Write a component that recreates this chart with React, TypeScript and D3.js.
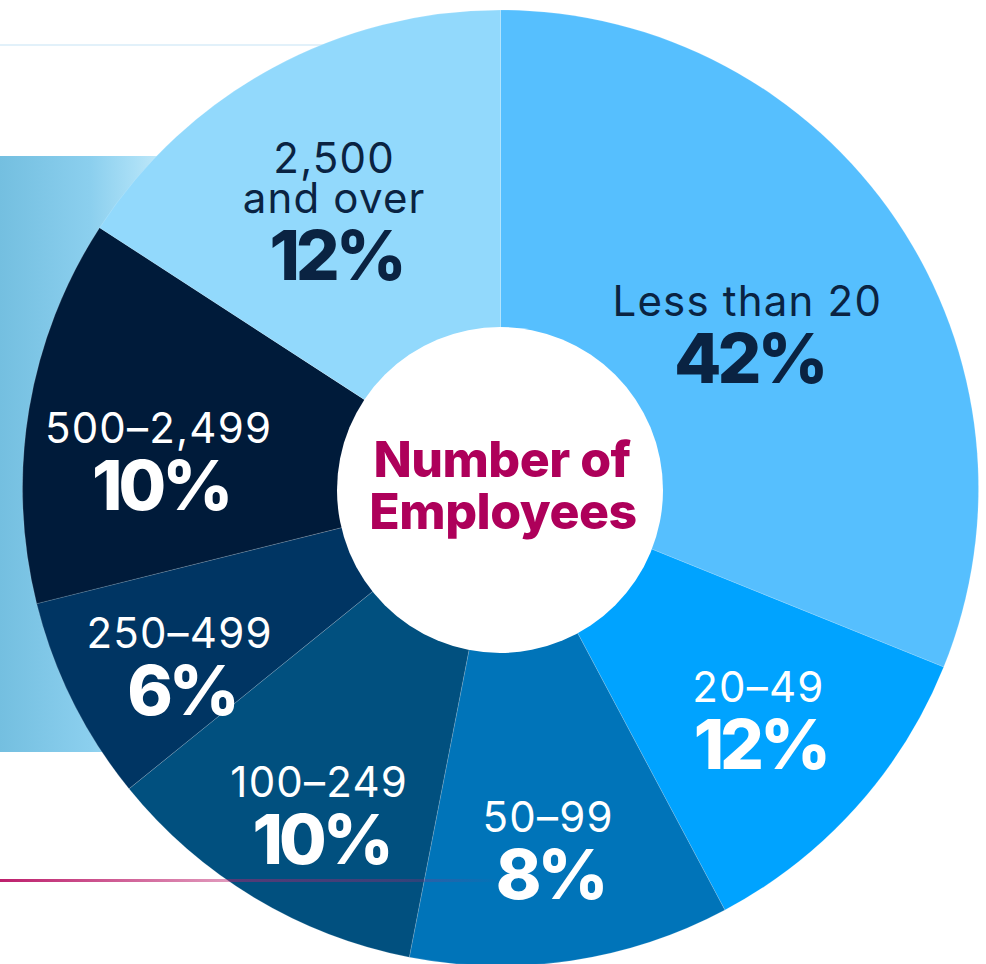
import * as d3 from 'd3';
import React, { useEffect, useRef } from 'react';

// categories (clockwise from 12 o'clock) and their share of companies
const categories = ['Less than 20', '20–49', '50–99', '100–249', '250–499', '500–2,499', '2,500\nand over'];
const percentages = [42, 12, 8, 10, 6, 10, 12];
// the artwork is not to scale: angular size (degrees) of each slice as it is drawn
const drawnDegrees = [112, 40, 39, 40, 25, 47, 57];

const sliceColors = ['#56bffe', '#00a3ff', '#0074b9', '#01507f', '#003563', '#001b3a', '#92d9fc'];
const labelColors = ['#0a2342', '#ffffff', '#ffffff', '#ffffff', '#ffffff', '#ffffff', '#0a2342'];
// where each label block sits: shift from the slice mid angle (deg) and distance from centre
const labelShift = [2, 0, 1, -2, -2.5, -5, -2.5];
const labelRadius = [291, 347, 365, 374, 367, 343, 323];

const W = 986;
const H = 964;
const FONT = 'Inter, "Open Sans", sans-serif';

function EmployeePie() {
    const ref = useRef(null);

    useEffect(() => {
        document.body.style.margin = '0';
        d3.select(ref.current).selectAll('*').remove();

        const svg = d3.select(ref.current).append('svg')
            .attr('width', W)
            .attr('height', H)
            .style('display', 'block');

        const defs = svg.append('defs');
        const photo = defs.append('linearGradient').attr('id', 'photo').attr('x1', 0).attr('x2', 1).attr('y1', 0).attr('y2', 0);
        photo.append('stop').attr('offset', '0%').attr('stop-color', '#74bfe0');
        photo.append('stop').attr('offset', '30%').attr('stop-color', '#8bcfee');
        photo.append('stop').attr('offset', '45%').attr('stop-color', '#aadff6');
        photo.append('stop').attr('offset', '60%').attr('stop-color', '#d2effb');

        const pink = defs.append('linearGradient').attr('id', 'pinkline').attr('x1', 0).attr('x2', 1).attr('y1', 0).attr('y2', 0);
        pink.append('stop').attr('offset', '0%').attr('stop-color', '#bd1f6c').attr('stop-opacity', 1);
        pink.append('stop').attr('offset', '46%').attr('stop-color', '#bd1f6c').attr('stop-opacity', 0.45);
        pink.append('stop').attr('offset', '80%').attr('stop-color', '#bd1f6c').attr('stop-opacity', 0.3);
        pink.append('stop').attr('offset', '100%').attr('stop-color', '#bd1f6c').attr('stop-opacity', 0);

        svg.append('rect').attr('width', W).attr('height', H).attr('fill', '#ffffff');

        // faint rule at the top and the faded photo panel behind the pie
        svg.append('rect').attr('x', 0).attr('y', 44).attr('width', 340).attr('height', 2).attr('fill', '#e2f1fa');
        svg.append('rect').attr('x', 0).attr('y', 156).attr('width', 300).attr('height', 596).attr('fill', 'url(#photo)');

        const cx = 500.5;
        const cy = 488;
        const outerR = 478;

        const pie = d3.pie().sort(null).value(d => d.deg);
        const slices = pie(categories.map((c, i) => ({ name: c, value: percentages[i], deg: drawnDegrees[i], i })));

        const arc = d3.arc().innerRadius(0).outerRadius(outerR);

        const g = svg.append('g').attr('transform', `translate(${cx},${cy})`);

        g.selectAll('path.slice')
            .data(slices)
            .enter().append('path')
            .attr('class', 'slice')
            .attr('d', arc)
            .attr('fill', d => sliceColors[d.data.i])
            .attr('stroke', 'rgba(255,255,255,0.22)')
            .attr('stroke-width', 0.7);

        // white hole in the middle
        svg.append('circle').attr('cx', 500).attr('cy', 490).attr('r', 163).attr('fill', '#ffffff');

        svg.append('text')
            .attr('x', 502).attr('y', 477)
            .attr('text-anchor', 'middle')
            .attr('font-family', FONT).attr('font-weight', 800).attr('font-size', 50)
            .attr('letter-spacing', -0.5)
            .attr('fill', '#ae005a')
            .text('Number of');
        svg.append('text')
            .attr('x', 503).attr('y', 529)
            .attr('text-anchor', 'middle')
            .attr('font-family', FONT).attr('font-weight', 800).attr('font-size', 50)
            .attr('letter-spacing', -0.5)
            .attr('fill', '#ae005a')
            .text('Employees');

        // labels
        const lineGap = 40;
        const pctGap = 67;
        slices.forEach(s => {
            const i = s.data.i;
            const a = (s.startAngle + s.endAngle) / 2 + (labelShift[i] * Math.PI) / 180;
            const lx = cx + labelRadius[i] * Math.sin(a);
            const ly = cy - labelRadius[i] * Math.cos(a);
            const lines = s.data.name.split('\n');
            const blockH = 31 + lineGap * (lines.length - 1) + pctGap;
            const firstBase = ly - blockH / 2 + 31;

            const t = svg.append('g').attr('fill', labelColors[i]).attr('font-family', FONT).attr('text-anchor', 'middle');
            lines.forEach((ln, k) => {
                t.append('text')
                    .attr('x', lx)
                    .attr('y', firstBase + k * lineGap)
                    .attr('font-size', 42)
                    .attr('font-weight', 400)
                    .attr('letter-spacing', 1.2)
                    .text(ln);
            });
            t.append('text')
                .attr('x', lx + 2)
                .attr('y', firstBase + lineGap * (lines.length - 1) + pctGap)
                .attr('font-size', 69)
                .attr('font-weight', 800)
                .attr('letter-spacing', -4)
                .text(`${s.data.value}%`);
        });

        // magenta rule running across the lower part
        svg.append('rect').attr('x', 0).attr('y', 879).attr('width', 500).attr('height', 3).attr('fill', 'url(#pinkline)');
    }, []);

    return <div ref={ref} />;
}

export default function App() {
    return <EmployeePie />;
}
